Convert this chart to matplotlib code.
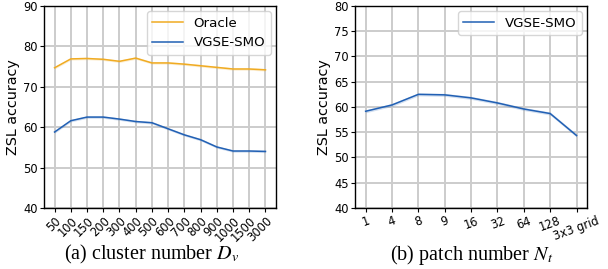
# ZSL accuracy vs cluster number / patch number

import numpy as np
from matplotlib import pyplot as plt

plt.rcParams['mathtext.fontset'] = 'stix'

# (a) cluster number
clusters = ['50', '100', '150', '200', '300', '400', '500', '600', '700',
            '800', '900', '1000', '1500', '3000']
oracle = [74.7, 76.9, 77.0, 76.8, 76.3, 77.1, 75.9, 75.9, 75.6, 75.2,
          74.8, 74.4, 74.4, 74.2]
vgse_a = [58.8, 61.6, 62.5, 62.5, 62.0, 61.4, 61.1, 59.6, 58.1, 56.9,
          55.1, 54.1, 54.1, 54.0]

# (b) patch number
patches = ['1', '4', '8', '9', '16', '32', '64', '128', '3x3 grid']
vgse_b = [59.15, 60.4, 62.5, 62.4, 61.8, 60.8, 59.6, 58.7, 54.35]

c_orange = '#f0ab22'
c_blue = '#2160b4'
band = 0.3

fig = plt.figure(figsize=(6.08, 2.69), dpi=100)
ax1 = fig.add_axes([0.0724, 0.2268, 0.3816, 0.751])
ax2 = fig.add_axes([0.584, 0.2268, 0.3816, 0.751])

for ax in (ax1, ax2):
    ax.grid(True, color='#cccccc', lw=1.4)
    ax.set_axisbelow(True)
    for s in ax.spines.values():
        s.set_linewidth(1.0)
    ax.tick_params(labelsize=8.3, length=3, width=0.8, pad=1.5)
    ax.set_ylabel('ZSL accuracy', fontsize=10.3, labelpad=2)

# left
x = np.arange(len(clusters))
ax1.fill_between(x, np.array(oracle) - band, np.array(oracle) + band,
                 color=c_orange, alpha=0.2, lw=0)
ax1.plot(x, oracle, color=c_orange, lw=1.1, label='Oracle')
ax1.fill_between(x, np.array(vgse_a) - band, np.array(vgse_a) + band,
                 color=c_blue, alpha=0.2, lw=0)
ax1.plot(x, vgse_a, color=c_blue, lw=1.1, label='VGSE-SMO')
ax1.set_ylim(40, 90)
ax1.set_yticks([40, 50, 60, 70, 80, 90])
ax1.set_xticks(x)
ax1.set_xticklabels(clusters, rotation=45, ha='right', rotation_mode='anchor')
ax1.legend(loc='upper right', fontsize=9.6, handlelength=2.3,
           borderaxespad=0.4)

# right
x2 = np.arange(len(patches))
ax2.fill_between(x2, np.array(vgse_b) - band, np.array(vgse_b) + band,
                 color=c_blue, alpha=0.2, lw=0)
ax2.plot(x2, vgse_b, color=c_blue, lw=1.1, label='VGSE-SMO')
ax2.set_ylim(40, 80)
ax2.set_yticks(range(40, 81, 5))
ax2.set_xticks(x2)
ax2.set_xticklabels(patches, rotation=20, ha='center')
ax2.legend(loc='upper right', fontsize=9.6, handlelength=2.3,
           borderaxespad=0.4)

fig.text(0.25, 0.035, '(a) cluster number $D_v$', ha='center',
         family='Liberation Serif', fontsize=14.5)
fig.text(0.775, 0.035, '(b) patch number $N_t$', ha='center',
         family='Liberation Serif', fontsize=14.5)

plt.savefig('out.png', dpi=100)
